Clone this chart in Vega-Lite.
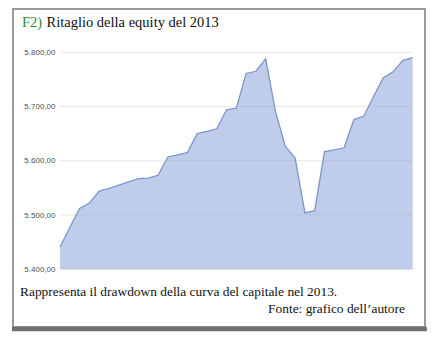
{
  "$schema": "https://vega.github.io/schema/vega-lite/v6.json",
  "autosize": "none",
  "width": 412,
  "height": 318,
  "padding": {"left": 13, "top": 9, "right": 20, "bottom": 25},
  "background": "white",
  "config": {"view": {"stroke": "#9a9a9a", "strokeWidth": 2}},
  "datasets": {
    "equity": [
      {"i": 0, "equity": 5441}, {"i": 1, "equity": 5477}, {"i": 2, "equity": 5512},
      {"i": 3, "equity": 5522}, {"i": 4, "equity": 5544}, {"i": 5, "equity": 5549},
      {"i": 6, "equity": 5555}, {"i": 7, "equity": 5561}, {"i": 8, "equity": 5567},
      {"i": 9, "equity": 5568}, {"i": 10, "equity": 5573}, {"i": 11, "equity": 5607},
      {"i": 12, "equity": 5611}, {"i": 13, "equity": 5615}, {"i": 14, "equity": 5650},
      {"i": 15, "equity": 5654}, {"i": 16, "equity": 5659}, {"i": 17, "equity": 5694},
      {"i": 18, "equity": 5697}, {"i": 19, "equity": 5761}, {"i": 20, "equity": 5765},
      {"i": 21, "equity": 5788}, {"i": 22, "equity": 5690}, {"i": 23, "equity": 5627},
      {"i": 24, "equity": 5605}, {"i": 25, "equity": 5504}, {"i": 26, "equity": 5508},
      {"i": 27, "equity": 5617}, {"i": 28, "equity": 5620}, {"i": 29, "equity": 5624},
      {"i": 30, "equity": 5676}, {"i": 31, "equity": 5682}, {"i": 32, "equity": 5718},
      {"i": 33, "equity": 5753}, {"i": 34, "equity": 5764}, {"i": 35, "equity": 5785},
      {"i": 36, "equity": 5790}
    ],
    "grid": [{"g": 5400}, {"g": 5500}, {"g": 5600}, {"g": 5700}, {"g": 5800}]
  },
  "layer": [
    {
      "data": {"name": "equity"},
      "mark": {"type": "area", "color": "#bfcdea", "opacity": 1, "line": {"color": "#7d96c8", "strokeWidth": 1.3}},
      "encoding": {
        "x": {
          "field": "i", "type": "quantitative",
          "scale": {"domain": [-4.8, 37.26], "nice": false, "zero": false},
          "axis": null
        },
        "y": {
          "field": "equity", "type": "quantitative",
          "scale": {"domain": [5293.6, 5879.8], "nice": false, "zero": false},
          "axis": {"title": null, "values": [5400, 5500, 5600, 5700, 5800], "grid": false, "ticks": false, "domain": false, "offset": -47, "labelPadding": 5, "labelFont": "Liberation Sans", "labelFontSize": 8, "labelColor": "#505050",
            "labelExpr": "replace(replace(replace(format(datum.value, ',.2f'), ',', '_'), '.', ','), '_', '.')"}
        },
        "y2": {"datum": 5400}
      }
    },
    {
      "data": {"name": "grid"},
      "mark": {"type": "rule", "color": "#b0b0b0", "opacity": 0.3, "strokeWidth": 1},
      "encoding": {
        "y": {"field": "g", "type": "quantitative"},
        "x": {"datum": 0},
        "x2": {"datum": 36}
      }
    },
    {
      "data": {"values": [{"t": "border"}]},
      "mark": {"type": "rule", "color": "#6f6f6f", "strokeWidth": 4.5, "clip": false},
      "encoding": {
        "y": {"datum": 5289.9},
        "x": {"datum": -4.9},
        "x2": {"datum": 37.45}
      }
    },
    {
      "data": {"values": [{"t": "F2)"}]},
      "mark": {"type": "text", "align": "left", "baseline": "alphabetic", "font": "Liberation Serif", "fontSize": 14.5, "color": "#2e8b2e"},
      "encoding": {"text": {"field": "t"}, "x": {"datum": -3.88}, "y": {"datum": 5846.6}}
    },
    {
      "data": {"values": [{"t": "Ritaglio della equity del 2013"}]},
      "mark": {"type": "text", "align": "left", "baseline": "alphabetic", "font": "Liberation Serif", "fontSize": 14.5, "color": "#111111", "dx": 24.5},
      "encoding": {"text": {"field": "t"}, "x": {"datum": -3.88}, "y": {"datum": 5846.6}}
    },
    {
      "data": {"values": [{"t": "Rappresenta il drawdown della curva del capitale nel 2013."}]},
      "mark": {"type": "text", "align": "left", "baseline": "alphabetic", "font": "Liberation Serif", "fontSize": 13.4, "color": "#111111"},
      "encoding": {"text": {"field": "t"}, "x": {"datum": -4.08}, "y": {"datum": 5350.8}}
    },
    {
      "data": {"values": [{"t": "Fonte: grafico dell’autore"}]},
      "mark": {"type": "text", "align": "right", "baseline": "alphabetic", "font": "Liberation Serif", "fontSize": 13.4, "color": "#111111"},
      "encoding": {"text": {"field": "t"}, "x": {"datum": 35.21}, "y": {"datum": 5319.4}}
    }
  ]
}
